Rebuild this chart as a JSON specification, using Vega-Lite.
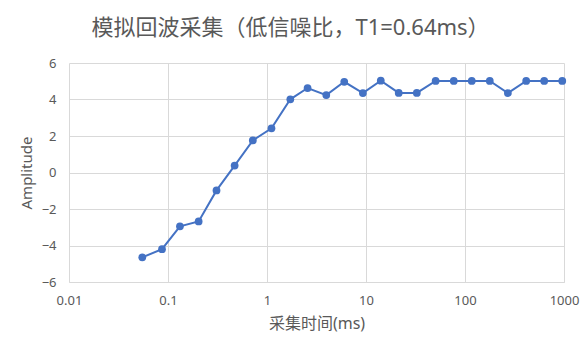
{
  "$schema": "https://vega.github.io/schema/vega-lite/v6.json",
  "width": 495,
  "height": 219,
  "autosize": {"type": "none"},
  "padding": {"left": 69, "top": 63, "right": 23, "bottom": 62},
  "background": "white",
  "title": {
    "text": "模拟回波采集（低信噪比，T1=0.64ms）",
    "font": "'Noto Sans', 'Noto Sans CJK SC'",
    "fontSize": 22,
    "fontWeight": "normal",
    "color": "#595959",
    "anchor": "middle",
    "frame": "group",
    "dx": -26,
    "offset": 17
  },
  "data": {
    "values": [
      {"t": 0.055, "a": -4.65},
      {"t": 0.087, "a": -4.2},
      {"t": 0.132, "a": -2.95},
      {"t": 0.204, "a": -2.68},
      {"t": 0.309, "a": -0.98},
      {"t": 0.471, "a": 0.38},
      {"t": 0.719, "a": 1.76},
      {"t": 1.11, "a": 2.42},
      {"t": 1.72, "a": 4.01},
      {"t": 2.57, "a": 4.63},
      {"t": 3.97, "a": 4.24},
      {"t": 6.03, "a": 4.97},
      {"t": 9.3, "a": 4.35},
      {"t": 14.1, "a": 5.03},
      {"t": 21.4, "a": 4.36},
      {"t": 32.6, "a": 4.36},
      {"t": 50.5, "a": 5.02},
      {"t": 77, "a": 5.02},
      {"t": 117, "a": 5.02},
      {"t": 178, "a": 5.02},
      {"t": 271, "a": 4.35},
      {"t": 415, "a": 5.02},
      {"t": 631, "a": 5.02},
      {"t": 960, "a": 5.02}
    ]
  },
  "encoding": {
    "x": {
      "field": "t",
      "type": "quantitative",
      "scale": {"type": "log", "domain": [0.01, 1000], "nice": false},
      "axis": {
        "title": "采集时间(ms)",
        "values": [0.01, 0.1, 1, 10, 100, 1000],
        "format": "~g",
        "grid": true,
        "gridColor": "#d9d9d9",
        "gridWidth": 1,
        "domain": true,
        "domainColor": "#d9d9d9",
        "ticks": false,
        "labelFlush": false,
        "labelBound": false,
        "labelOverlap": false,
        "labelPadding": 12,
        "labelFont": "Noto Sans",
        "labelFontSize": 13,
        "labelColor": "#595959",
        "titleFont": "'Noto Sans', 'Noto Sans CJK SC'",
        "titleFontSize": 16,
        "titleFontWeight": "normal",
        "titleColor": "#595959",
        "titlePadding": 8
      }
    },
    "y": {
      "field": "a",
      "type": "quantitative",
      "scale": {"domain": [-6, 6], "nice": false, "zero": false},
      "axis": {
        "title": "Amplitude",
        "values": [-6, -4, -2, 0, 2, 4, 6],
        "grid": true,
        "gridColor": "#d9d9d9",
        "gridWidth": 1,
        "domain": false,
        "ticks": false,
        "labelFlush": false,
        "labelBound": false,
        "labelOverlap": false,
        "labelPadding": 13,
        "labelFont": "Noto Sans",
        "labelFontSize": 13,
        "labelColor": "#595959",
        "titleFont": "Noto Sans",
        "titleFontSize": 15,
        "titleFontWeight": "normal",
        "titleColor": "#595959",
        "titlePadding": 7
      }
    }
  },
  "layer": [
    {
      "mark": {"type": "line", "color": "#4472C4", "strokeWidth": 2}
    },
    {
      "mark": {"type": "point", "filled": true, "color": "#4472C4", "size": 60, "opacity": 1}
    }
  ],
  "config": {"view": {"stroke": null}}
}
